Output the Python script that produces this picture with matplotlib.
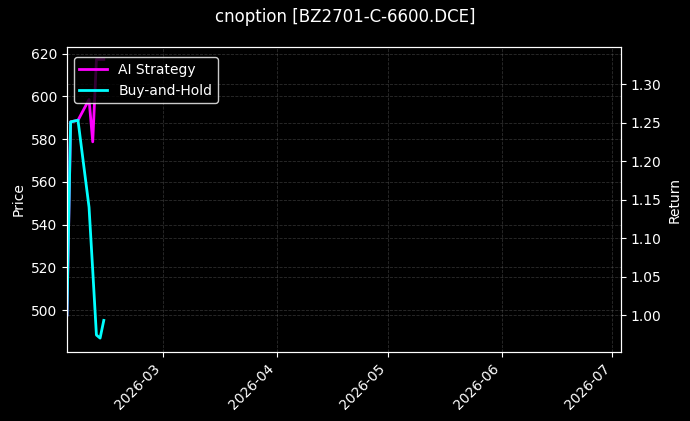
import pandas as pd
import matplotlib
matplotlib.use('Agg')
import matplotlib.pyplot as plt
import matplotlib.dates as mdates

dates = pd.to_datetime(['2026-02-03', '2026-02-04', '2026-02-06', '2026-02-09',
                        '2026-02-10', '2026-02-11', '2026-02-12', '2026-02-13'])
ai_strategy = [1.000, 1.251, 1.253, 1.280, 1.225, 1.332, 1.332, 1.332]
buy_hold = [1.000, 1.251, 1.253, 1.140, 1.058, 0.974, 0.970, 0.993]

x_start = pd.Timestamp('2026-02-03')
x_end = pd.Timestamp('2026-07-03 08:00')
price_lim = (480.5, 623.0)
return_lim = (0.952, 1.348)

plt.style.use('dark_background')
fig, ax1 = plt.subplots(figsize=(6.9, 4.21), dpi=100)
fig.subplots_adjust(left=0.097, right=0.9, top=0.888, bottom=0.164)

ax1.set_ylim(price_lim)
ax1.set_ylabel('Price')
ax1.grid(True, linestyle='--', color='gray', alpha=0.35, linewidth=0.6)

ax2 = ax1.twinx()
ax2.plot(dates, ai_strategy, color='magenta', linewidth=2, label='AI Strategy')
ax2.plot(dates, buy_hold, color='cyan', linewidth=2, label='Buy-and-Hold')
ax2.set_ylim(return_lim)
ax2.set_ylabel('Return')
ax2.grid(True, linestyle='--', color='gray', alpha=0.35, linewidth=0.6)
ax2.legend(loc='upper left', bbox_to_anchor=(0, 0.99), facecolor='black',
           edgecolor='white', framealpha=0.8)

ax1.set_xlim(x_start, x_end)
ax1.xaxis.set_major_locator(mdates.MonthLocator())
ax1.xaxis.set_major_formatter(mdates.DateFormatter('%Y-%m'))
plt.setp(ax1.get_xticklabels(), rotation=45, ha='right')

fig.suptitle('cnoption [BZ2701-C-6600.DCE]', fontsize=12)
fig.savefig('out.png', dpi=100, facecolor='black')
